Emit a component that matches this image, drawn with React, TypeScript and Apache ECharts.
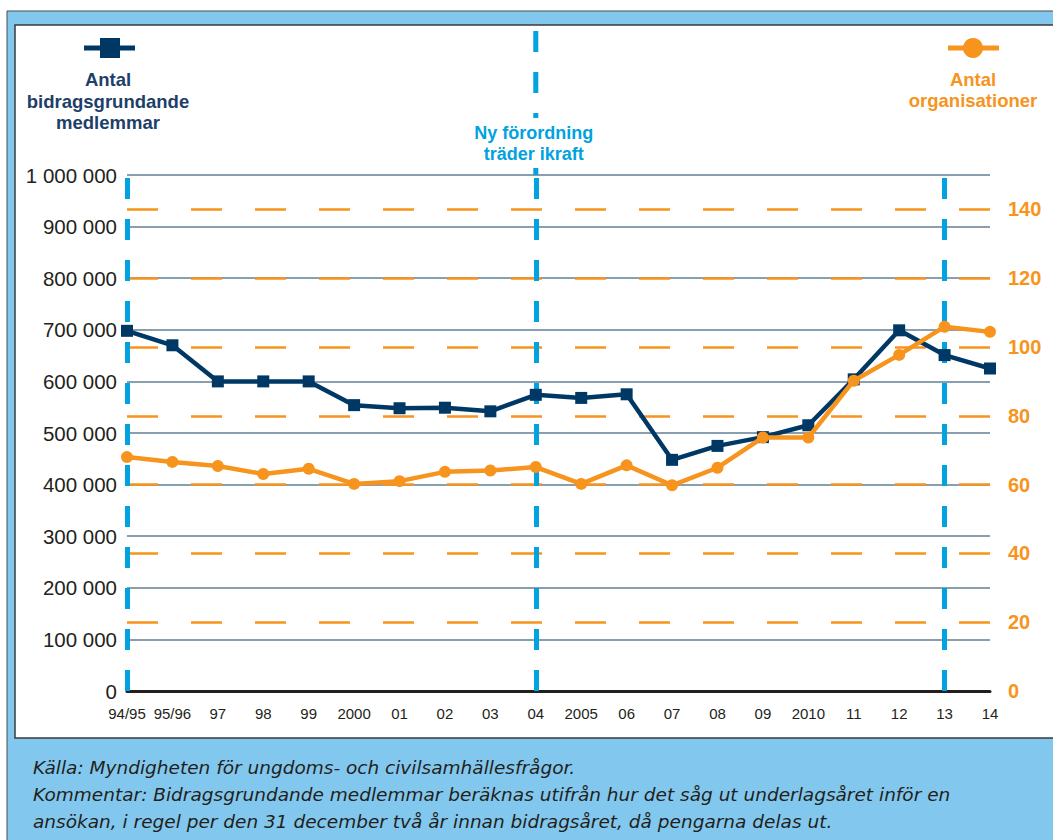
import React, { useEffect, useRef } from 'react';
import * as echarts from 'echarts';

const categories = ['94/95', '95/96', '97', '98', '99', '2000', '01', '02', '03', '04', '2005', '06', '07', '08', '09', '2010', '11', '12', '13', '14'];
const members = [698000, 670000, 600000, 600000, 600000, 554000, 548000, 549000, 542000, 574000, 568000, 575000, 448000, 475000, 492000, 515000, 604000, 699000, 651000, 625000];
const organisations = [68.0, 66.6, 65.4, 63.1, 64.6, 60.2, 61.0, 63.7, 64.1, 65.1, 60.2, 65.6, 59.8, 64.9, 73.7, 73.7, 90.2, 97.7, 105.9, 104.4];
const leftMax = 1000000;
const leftInterval = 100000;
const rightMax = 150;
const rightInterval = 20;
const markerYears = ['94/95', '04', '13'];
const reformYear = '04';

const NAVY = '#003865';
const NAVY_TEXT = '#1d3f69';
const ORANGE = '#F7941D';
const BLUE = '#00A3E0';
const FONT = '"Liberation Sans", Arial, sans-serif';
const FOOT_FONT = '"DejaVu Sans", sans-serif';

const fmt = (v: number) => String(v).replace(/\B(?=(\d{3})+(?!\d))/g, ' ');

export default function App() {
  const ref = useRef<HTMLDivElement>(null);
  useEffect(() => {
    if (!ref.current) return;
    const chart = echarts.init(ref.current, null, { renderer: 'svg' });
    const option: any = {
      animation: false,
      backgroundColor: '#ffffff',
      grid: { left: 127, right: 63, top: 175, bottom: 149, outerBoundsMode: 'none' },
      xAxis: {
        type: 'category',
        data: categories,
        boundaryGap: false,
        axisLine: { show: true, lineStyle: { color: '#231F20', width: 3 } },
        axisTick: { show: false },
        axisLabel: { color: '#231F20', fontSize: 15, fontFamily: FONT, margin: 15, interval: 0 },
        splitLine: { show: false },
      },
      yAxis: [
        {
          type: 'value',
          min: 0,
          max: leftMax,
          interval: leftInterval,
          axisLine: { show: false },
          axisTick: { show: false },
          axisLabel: { color: '#231F20', fontSize: 20.5, fontFamily: FONT, margin: 10, formatter: (v: number) => fmt(v) },
          splitLine: { show: true, showMinLine: false, lineStyle: { color: '#617e97', width: 1.5 } },
        },
        {
          type: 'value',
          min: 0,
          max: rightMax,
          interval: rightInterval,
          position: 'right',
          axisLine: { show: false },
          axisTick: { show: false },
          axisLabel: { color: ORANGE, fontSize: 20, fontWeight: 'bold', fontFamily: FONT, margin: 18, showMaxLabel: false },
          splitLine: { show: true, showMinLine: false, showMaxLine: false, lineStyle: { color: ORANGE, width: 2.5, type: [31, 33] } },
        },
      ],
      series: [
        {
          type: 'line',
          data: [],
          z: 1,
          silent: true,
          markLine: {
            z: 1,
            silent: true,
            symbol: ['none', 'none'],
            label: { show: false },
            lineStyle: { color: BLUE, width: 5, type: [21, 20] },
            emphasis: { disabled: true },
            data: markerYears.map((c) => ({ xAxis: c })),
          },
        },
        {
          name: 'Antal bidragsgrundande medlemmar',
          type: 'line',
          data: members,
          yAxisIndex: 0,
          symbol: 'rect',
          symbolSize: 12,
          z: 3,
          lineStyle: { color: NAVY, width: 4.5 },
          itemStyle: { color: NAVY },
        },
        {
          name: 'Antal organisationer',
          type: 'line',
          data: organisations,
          yAxisIndex: 1,
          symbol: 'circle',
          symbolSize: 12,
          z: 4,
          lineStyle: { color: ORANGE, width: 4.5 },
          itemStyle: { color: ORANGE },
        },
      ],
    };
    chart.setOption(option);

    const xReform = chart.convertToPixel({ xAxisIndex: 0 }, reformYear) as number;
    const yTop = chart.convertToPixel({ yAxisIndex: 0 }, leftMax) as number;

    chart.setOption({
      graphic: [
        { type: 'rect', z: -10, silent: true, shape: { x: 7, y: 11, width: 1060, height: 840 }, style: { fill: '#82C8EE', stroke: '#4a4a4a', lineWidth: 1 } },
        { type: 'rect', z: -9, silent: true, shape: { x: 15, y: 25, width: 1050, height: 713 }, style: { fill: '#ffffff', stroke: '#3a3a3a', lineWidth: 1.5 } },
        // left legend
        { type: 'line', z: 50, shape: { x1: 84, y1: 48, x2: 135, y2: 48 }, style: { stroke: NAVY, lineWidth: 5 } },
        { type: 'rect', z: 51, shape: { x: 100, y: 38, width: 20, height: 20 }, style: { fill: NAVY } },
        {
          type: 'text', z: 50, x: 108, y: 69,
          style: { text: 'Antal\nbidragsgrundande\nmedlemmar', fill: NAVY_TEXT, fontSize: 18.5, fontWeight: 'bold', fontFamily: FONT, align: 'center', verticalAlign: 'top', lineHeight: 21.5 },
        },
        // right legend
        { type: 'line', z: 50, shape: { x1: 948, y1: 48, x2: 999, y2: 48 }, style: { stroke: ORANGE, lineWidth: 5 } },
        { type: 'circle', z: 51, shape: { cx: 973, cy: 48, r: 10 }, style: { fill: ORANGE } },
        {
          type: 'text', z: 50, x: 973, y: 69,
          style: { text: 'Antal\norganisationer', fill: ORANGE, fontSize: 18.5, fontWeight: 'bold', fontFamily: FONT, align: 'center', verticalAlign: 'top', lineHeight: 21 },
        },
        // reform line extension + label
        { type: 'line', z: 20, shape: { x1: xReform, y1: yTop, x2: xReform, y2: 26 }, style: { stroke: BLUE, lineWidth: 5, lineDash: [21, 20] } },
        {
          type: 'text', z: 30, x: xReform - 2, y: 118,
          style: { text: 'Ny förordning\nträder ikraft', fill: BLUE, fontSize: 18, fontWeight: 'bold', fontFamily: FONT, align: 'center', verticalAlign: 'top', lineHeight: 21, backgroundColor: '#ffffff', padding: [4, 6, 4, 6] },
        },
        // footer
        {
          type: 'text', z: 50, x: 33, y: 754,
          style: {
            text: 'Källa: Myndigheten för ungdoms- och civilsamhällesfrågor.\nKommentar: Bidragsgrundande medlemmar beräknas utifrån hur det såg ut underlagsåret inför en\nansökan, i regel per den 31 december två år innan bidragsåret, då pengarna delas ut.',
            fill: '#231F20', fontSize: 18.5, fontStyle: 'italic', fontFamily: FOOT_FONT, align: 'left', verticalAlign: 'top', lineHeight: 27,
          },
        },
      ],
    });
    return () => chart.dispose();
  }, []);
  return <div ref={ref} style={{ position: 'absolute', left: 0, top: 0, width: 1053, height: 840 }} />;
}
